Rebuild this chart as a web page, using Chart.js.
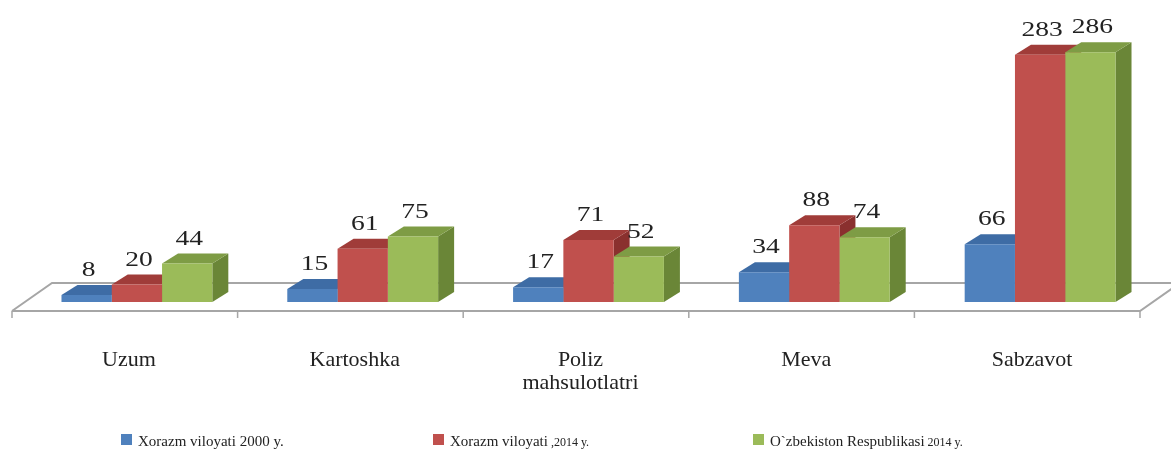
<!DOCTYPE html>
<html lang="en">
<head>
  <meta charset="UTF-8">
  <title>Production chart</title>
  <script src="https://cdn.jsdelivr.net/npm/chart.js"></script>
  <style>
    html, body { margin: 0; padding: 0; background: #fff; }
    #wrap { width: 1171px; height: 450px; }
  </style>
</head>
<body>
<div id="wrap"><canvas id="prodChart" width="1171" height="450"></canvas></div>

<script>
  const categories = ['Uzum', 'Kartoshka', ['Poliz', 'mahsulotlatri'], 'Meva', 'Sabzavot'];
  const xorazm2000 = [8, 15, 17, 34, 66];
  const xorazm2014 = [20, 61, 71, 88, 283];
  const uzbek2014 = [44, 75, 52, 74, 286];

  const seriesNames = [
    ['Xorazm viloyati 2000 y.', ''],
    ['Xorazm viloyati', ' ,2014 y.'],
    ['O`zbekiston Respublikasi', ' 2014 y.']
  ];
  const colors = ['#4F81BD', '#C0504D', '#9BBB59'];
  const topColors = ['#3E6CA5', '#A03C39', '#7E9C45'];
  const sideColors = ['#365F91', '#8A302E', '#6A8637'];

  const DX = 16, DY = -10;   // bar depth
  const FLOOR = '#A6A6A6';
  const SERIF = '"Liberation Serif", "Times New Roman", serif';

  function poly(ctx, pts, fill) {
    ctx.beginPath();
    ctx.moveTo(pts[0][0], pts[0][1]);
    for (let i = 1; i < pts.length; i++) ctx.lineTo(pts[i][0], pts[i][1]);
    ctx.closePath();
    ctx.fillStyle = fill;
    ctx.fill();
  }

  const threeD = {
    id: 'threeD',
    beforeDatasetsDraw(chart) {
      const ctx = chart.ctx;
      const a = chart.chartArea;
      const fy = a.bottom + 9, by = a.bottom - 19;
      const fl = a.left - 12, fr = a.right - 13;
      ctx.save();
      // floor
      ctx.strokeStyle = FLOOR;
      ctx.lineWidth = 2;
      ctx.beginPath();
      ctx.moveTo(fl, fy); ctx.lineTo(fr, fy);
      ctx.lineTo(fr + 40, fy - 28);
      ctx.moveTo(fl, fy); ctx.lineTo(fl + 40, by);
      ctx.lineTo(fr + 40, by);
      ctx.stroke();
      const step = (fr - fl) / categories.length;
      ctx.lineWidth = 1.5;
      ctx.beginPath();
      for (let k = 0; k <= categories.length; k++) {
        const x = fl + k * step;
        ctx.moveTo(x, fy); ctx.lineTo(x, fy + 7);
      }
      ctx.stroke();
      // side and top faces, fronts drawn after by Chart.js
      for (let i = 0; i < categories.length; i++) {
        chart.data.datasets.forEach((ds, d) => {
          const bar = chart.getDatasetMeta(d).data[i];
          const x0 = bar.x - bar.width / 2, x1 = bar.x + bar.width / 2;
          const top = bar.y, bot = bar.base;
          poly(ctx, [[x1, top], [x1 + DX, top + DY], [x1 + DX, bot + DY], [x1, bot]], sideColors[d]);
          poly(ctx, [[x0, top], [x0 + DX, top + DY], [x1 + DX, top + DY], [x1, top]], topColors[d]);
        });
      }
      ctx.restore();
    },
    afterDatasetsDraw(chart) {
      const ctx = chart.ctx;
      ctx.save();
      ctx.fillStyle = '#222';
      ctx.textAlign = 'center';
      ctx.font = '22px ' + SERIF;
      // value labels, a bit wider like the original
      chart.data.datasets.forEach((ds, d) => {
        chart.getDatasetMeta(d).data.forEach((bar, i) => {
          ctx.save();
          ctx.translate(bar.x + 2, bar.y - 19);
          ctx.scale(1.25, 1);
          ctx.fillText(String(ds.data[i]), 0, 0);
          ctx.restore();
        });
      });
      // category labels
      ctx.font = '22px ' + SERIF;
      ctx.textBaseline = 'middle';
      const xs = chart.scales.x;
      categories.forEach((c, i) => {
        const lines = Array.isArray(c) ? c : [c];
        const x = xs.getPixelForValue(i) - 8;
        lines.forEach((t, j) => ctx.fillText(t, x, 360 + j * 23));
      });
      // legend
      const lx = [121, 433, 753];
      ctx.textAlign = 'left';
      ctx.textBaseline = 'alphabetic';
      seriesNames.forEach((n, d) => {
        ctx.fillStyle = colors[d];
        ctx.fillRect(lx[d], 434, 11, 11);
        ctx.fillStyle = '#222';
        ctx.font = '15px ' + SERIF;
        ctx.fillText(n[0], lx[d] + 17, 446);
        if (n[1]) {
          const w = ctx.measureText(n[0]).width;
          ctx.font = '12px ' + SERIF;
          ctx.fillText(n[1], lx[d] + 17 + w, 446);
        }
      });
      ctx.restore();
    }
  };

  new Chart(document.getElementById('prodChart'), {
    type: 'bar',
    data: {
      labels: categories,
      datasets: [
        { label: seriesNames[0].join(''), data: xorazm2000, backgroundColor: colors[0] },
        { label: seriesNames[1].join(''), data: xorazm2014, backgroundColor: colors[1] },
        { label: seriesNames[2].join(''), data: uzbek2014, backgroundColor: colors[2] }
      ]
    },
    options: {
      responsive: false,
      animation: false,
      layout: { padding: { left: 24, right: 18, top: 40, bottom: 148 } },
      datasets: { bar: { categoryPercentage: 0.668, barPercentage: 1.0, borderWidth: 0 } },
      scales: {
        x: { display: false },
        y: { display: false, min: 0, max: 300 }
      },
      plugins: {
        legend: { display: false },
        tooltip: { enabled: false }
      }
    },
    plugins: [threeD]
  });
</script>
</body>
</html>
